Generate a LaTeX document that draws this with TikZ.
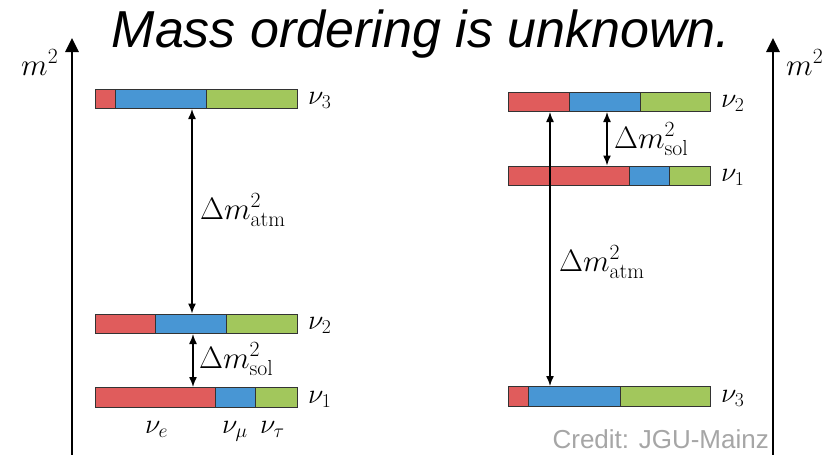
\RequirePackage{fix-cm}
\documentclass[tikz,border=0pt]{standalone}
\usepackage{fontspec}
\newfontfamily\arialfont{Liberation Sans}
\usetikzlibrary{arrows.meta}
\definecolor{cred}{HTML}{E05C5C}
\definecolor{cblue}{HTML}{4896D4}
\definecolor{cgreen}{HTML}{A2C75C}
\definecolor{cline}{HTML}{333333}
\definecolor{cgray}{HTML}{A6A6A6}
\tikzset{
  barbox/.style={draw=cline, line width=1pt, minimum width=202pt, minimum height=19.5pt, inner sep=0pt, anchor=west},
  divider/.style={draw=cline, line width=1pt},
  axisarrow/.style={line width=2.8pt, -{Triangle[length=14pt,width=13pt]}},
  dm/.style={line width=1.4pt, {Latex[length=10pt,width=8pt]}-{Latex[length=10pt,width=8pt]}},
  mlabel/.style={inner sep=0pt, anchor=base west, font=\fontsize{31}{34}\selectfont},
  nulabel/.style={inner sep=0pt, anchor=base west, font=\fontsize{28}{30}\selectfont},
}
\newcommand\mybar[6]{% name, x0, ytop, red end, blue end, label
  \fill[cred] (#2,#3) rectangle (#4,#3+19.5);
  \fill[cblue] (#4,#3) rectangle (#5,#3+19.5);
  \fill[cgreen] (#5,#3) rectangle (#2+202,#3+19.5);
  \draw[divider] (#4,#3) -- (#4,#3+19.5);
  \draw[divider] (#5,#3) -- (#5,#3+19.5);
  \node[barbox] (#1) at (#2,#3+9.75) {};
  \node[nulabel] (#1lab) at ([xshift=10pt,yshift=-6pt]#1.east) {$\nu_{#6}$};
}
\begin{document}
\begin{tikzpicture}[x=1pt,y=-1pt]
\useasboundingbox (0,0) rectangle (830,455);
\fill[white] (0,0) rectangle (830,455);

% title
\node[inner sep=0pt, anchor=base, font=\arialfont\itshape\fontsize{52}{56}\selectfont] (title) at (421,47) {Mass ordering is unknown.};

% axes
\coordinate (axLb) at (72,456);
\coordinate (axLt) at (72,38);
\draw[axisarrow] (axLb) -- (axLt);
\node[mlabel] (mL) at (21,75) {$m^2$};
\coordinate (axRb) at (773,456);
\coordinate (axRt) at (773,38);
\draw[axisarrow] (axRb) -- (axRt);
\node[mlabel] (mR) at (786,75) {$m^2$};

% left panel (normal ordering)
\mybar{L3}{95}{89}{115}{206}{3}
\mybar{L2}{95}{314}{155}{226}{2}
\mybar{L1}{95}{387.5}{215}{255}{1}
\coordinate (xLa) at (192,0);
\coordinate (xLs) at (193,0);
\draw[dm] (xLa |- L3.south) -- (xLa |- L2.north);
\draw[dm] (xLs |- L2.south) -- (xLs |- L1.north);
\node[mlabel] (atmL) at (200,219) {$\Delta m^2_{\mathrm{atm}}$};
\node[mlabel] (solL) at (199,368) {$\Delta m^2_{\mathrm{sol}}$};
\node[nulabel] (nue) at (145,433) {$\nu_e$};
\node[nulabel] (numu) at (222,433) {$\nu_\mu$};
\node[nulabel] (nutau) at (260,433) {$\nu_\tau$};

% right panel (inverted ordering)
\mybar{R2}{508}{92}{569}{640}{2}
\mybar{R1}{508}{166}{629}{669}{1}
\mybar{R3}{508}{386.5}{528}{620}{3}
\coordinate (xRa) at (550,0);
\coordinate (xRs) at (607,0);
\draw[dm] (xRs |- R2.south) -- (xRs |- R1.north);
\draw[dm] (xRa |- R3.north) -- (xRa |- R2.south);
\node[mlabel] (solR) at (614,148) {$\Delta m^2_{\mathrm{sol}}$};
\node[mlabel] (atmR) at (559,271) {$\Delta m^2_{\mathrm{atm}}$};

% credit
\node[inner sep=0pt, anchor=base east, text=cgray, font=\arialfont\fontsize{26}{28}\selectfont] (credit) at (769,448) {Credit: JGU-Mainz};
\end{tikzpicture}
\end{document}
